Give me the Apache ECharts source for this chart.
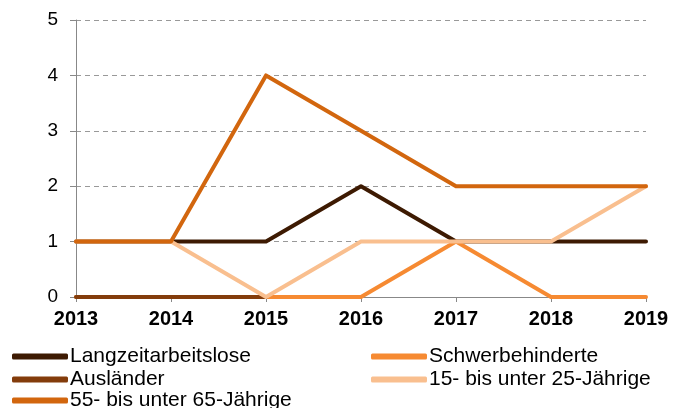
<!DOCTYPE html>
<html>
<head>
<meta charset="utf-8">
<script src="https://cdn.jsdelivr.net/npm/echarts@6/dist/echarts.min.js"></script>
<style>
  html, body { margin: 0; padding: 0; background: #fff; }
  #chart { width: 686px; height: 408px; }
</style>
</head>
<body>
<div id="chart"></div>
<script>
// Kategorien (Jahre)
const years = ["2013", "2014", "2015", "2016", "2017", "2018", "2019"];
const yTicks = [0, 1, 2, 3, 4, 5];

// Werte je Gruppe
const langzeitarbeitslose = [1, 1, 1, 2, 1, 1, 1];
const schwerbehinderte = [0, 0, 0, 0, 1, 0, 0];
const auslaender = [0, 0, 0, null, null, null, null];
const jung15bis25 = [1, 1, 0, 1, 1, 1, 2];
const alt55bis65 = [1, 1, 4, 3, 2, 2, 2];

const font = "'Liberation Sans', Arial, sans-serif";

function lineSeries(name, data, color) {
  return {
    name: name,
    type: "line",
    data: data,
    symbol: "none",
    lineStyle: { width: 4, color: color, cap: "round", join: "round" },
    itemStyle: { color: color },
    connectNulls: false,
  };
}

// eine Legende pro Eintrag, damit die Anordnung wie im Original ist
function legendItem(name, left, top) {
  return {
    left: left,
    top: top,
    padding: 0,
    itemWidth: 56,
    itemHeight: 6,
    icon: "roundRect",
    textStyle: { fontFamily: font, fontSize: 21, color: "#000", padding: [0, 0, 0, -3] },
    data: [name],
  };
}

const chart = echarts.init(document.getElementById("chart"));

const option = {
  backgroundColor: "#fff",
  animation: false,
  grid: { left: 76, right: 40, top: 20, bottom: 111, containLabel: false },
  legend: [
    legendItem("Langzeitarbeitslose", 12, 346),
    legendItem("Schwerbehinderte", 371, 346),
    legendItem("Ausländer", 12, 369),
    legendItem("15- bis unter 25-Jährige", 371, 369),
    legendItem("55- bis unter 65-Jährige", 12, 390),
  ],
  xAxis: {
    type: "category",
    data: years,
    boundaryGap: false,
    axisLine: { lineStyle: { color: "#888", width: 1 } },
    axisTick: { show: true, alignWithLabel: true, length: 5, lineStyle: { color: "#888" } },
    axisLabel: { fontFamily: font, fontSize: 20, fontWeight: "bold", color: "#000", margin: 12 },
    splitLine: { show: false },
  },
  yAxis: {
    type: "value",
    min: yTicks[0],
    max: yTicks[yTicks.length - 1],
    interval: 1,
    axisLine: { show: true, lineStyle: { color: "#888", width: 1 } },
    axisTick: { show: true, length: 6, lineStyle: { color: "#888" } },
    axisLabel: { fontFamily: font, fontSize: 19, color: "#000", margin: 18 },
    splitLine: { show: true, lineStyle: { color: "#999", type: [5, 4], width: 1 } },
  },
  series: [
    lineSeries("Langzeitarbeitslose", langzeitarbeitslose, "#3d1a02"),
    lineSeries("Schwerbehinderte", schwerbehinderte, "#f68a32"),
    lineSeries("Ausländer", auslaender, "#833c0b"),
    lineSeries("15- bis unter 25-Jährige", jung15bis25, "#f9bf8f"),
    lineSeries("55- bis unter 65-Jährige", alt55bis65, "#d2660e"),
  ],
};

chart.setOption(option);
</script>
</body>
</html>
